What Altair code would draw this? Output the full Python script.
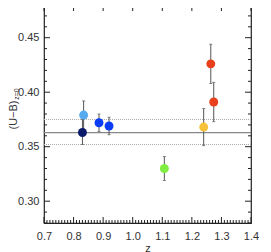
import altair as alt
import pandas as pd

# data
z = [0.830, 0.834, 0.886, 0.920, 1.107, 1.240, 1.264, 1.274]
ub = [0.363, 0.379, 0.372, 0.369, 0.330, 0.368, 0.426, 0.391]
lo = [0.352, 0.366, 0.364, 0.361, 0.319, 0.351, 0.408, 0.373]
hi = [0.375, 0.392, 0.380, 0.377, 0.341, 0.385, 0.444, 0.409]
colors = ["#0b1a6b", "#55aaf0", "#0a3cf5", "#0a3cf5", "#80ee40", "#f7c23a", "#e8401c", "#e8401c"]
order = [2, 1, 3, 4, 5, 6, 7, 8]

mean_line = [0.363]
band_lines = [0.375, 0.352]

x_major = [0.7, 0.8, 0.9, 1.0, 1.1, 1.2, 1.3, 1.4]
y_major = [0.30, 0.35, 0.40, 0.45]
x_minor = [round(0.7 + 0.01 * i, 2) for i in range(71) if i % 10 != 0]
y_minor = [round(0.28 + 0.01 * i, 2) for i in range(21) if round(0.28 + 0.01 * i, 2) not in y_major]

W, H = 207, 218
FONT = "Liberation Sans"

df = pd.DataFrame({"z": z, "ub": ub, "lo": lo, "hi": hi, "c": colors, "o": order})

xs = alt.Scale(domain=[0.7, 1.4], nice=False, zero=False)
ys = alt.Scale(domain=[0.28, 0.48], nice=False, zero=False)

xax = alt.Axis(values=x_major, format=".1f", tickSize=0, domain=False, grid=False,
               labelOverlap=False, labelBound=False, labelFlush=False,
               labelFont=FONT, labelFontSize=11, labelColor="#333", labelPadding=7,
               title="z", titleFont=FONT, titleFontSize=11, titleFontWeight="normal",
               titleColor="#333", titlePadding=1)
yax = alt.Axis(values=y_major, format=".2f", tickSize=0, domain=False, grid=False,
               labelOverlap=False, labelBound=False, labelFlush=False,
               labelFont=FONT, labelFontSize=11, labelColor="#333", labelPadding=5,
               title=None)


def X(f):
    return alt.X(f, scale=xs, axis=None)


def Y(f):
    return alt.Y(f, scale=ys, axis=None)


base = alt.Chart(df)

pts_hidden = base.mark_point(opacity=0).encode(
    x=alt.X("z:Q", scale=xs, axis=xax),
    y=alt.Y("ub:Q", scale=ys, axis=yax),
)

solid = alt.Chart(pd.DataFrame({"v": mean_line})).mark_rule(color="#888", strokeWidth=1.2).encode(
    y=Y("v:Q"), x=alt.value(0), x2=alt.value(W))
dotted = alt.Chart(pd.DataFrame({"v": band_lines})).mark_rule(color="#aaa", strokeWidth=1, strokeDash=[1, 1]).encode(
    y=Y("v:Q"), x=alt.value(0), x2=alt.value(W))

err = base.mark_rule(color="#555", strokeWidth=1).encode(
    x=X("z:Q"), y=Y("lo:Q"), y2="hi:Q")
cap_lo = base.mark_tick(color="#555", thickness=1, size=3, orient="horizontal").encode(
    x=X("z:Q"), y=Y("lo:Q"))
cap_hi = base.mark_tick(color="#555", thickness=1, size=3, orient="horizontal").encode(
    x=X("z:Q"), y=Y("hi:Q"))

pts = base.mark_circle(size=80, opacity=1).encode(
    x=X("z:Q"), y=Y("ub:Q"),
    color=alt.Color("c:N", scale=None), order="o:Q")


def xticks(vals, length):
    d = alt.Chart(pd.DataFrame({"t": vals}))
    b = d.mark_rule(color="#222", strokeWidth=1).encode(
        x=X("t:Q"), y=alt.value(H), y2=alt.value(H - length))
    t = d.mark_rule(color="#222", strokeWidth=1).encode(
        x=X("t:Q"), y=alt.value(0), y2=alt.value(length))
    return [b, t]


def yticks(vals, length):
    d = alt.Chart(pd.DataFrame({"t": vals}))
    l = d.mark_rule(color="#222", strokeWidth=1).encode(
        y=Y("t:Q"), x=alt.value(0), x2=alt.value(length))
    r = d.mark_rule(color="#222", strokeWidth=1).encode(
        y=Y("t:Q"), x=alt.value(W), x2=alt.value(W - length))
    return [l, r]


ticks = xticks(x_major, 6) + xticks(x_minor, 3) + yticks(y_major, 6) + yticks(y_minor, 3)

ytitle = alt.Chart(pd.DataFrame({"s": ["(U\u2212B)"]})).mark_text(
    angle=270, font=FONT, fontSize=11, color="#333", align="center", baseline="middle").encode(
    text="s:N", x=alt.value(-30), y=alt.value(110))
ysub = alt.Chart(pd.DataFrame({"s": ["z=0"]})).mark_text(
    angle=270, font=FONT, fontSize=7, color="#333", align="center", baseline="middle").encode(
    text="s:N", x=alt.value(-27), y=alt.value(89))

chart = alt.layer(pts_hidden, dotted, solid, err, cap_lo, cap_hi, pts, *ticks, ytitle, ysub).resolve_axis(
    x="independent", y="independent"
).properties(
    width=W, height=H,
    autosize=alt.AutoSizeParams(type="none"),
    padding={"left": 36, "top": -3, "right": 12, "bottom": 40},
).configure_view(stroke="#222", strokeWidth=1.2)

chart.save("out.html", embed_options={"renderer": "svg", "actions": False})
